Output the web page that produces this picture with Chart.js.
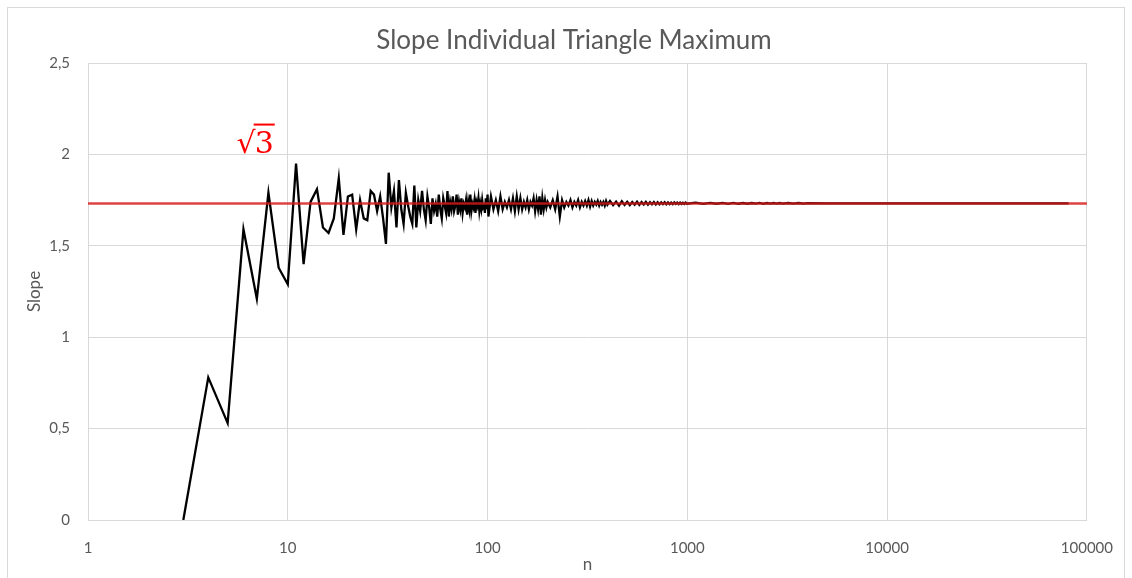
<!DOCTYPE html>
<html><head><meta charset="utf-8">
<script src="https://cdn.jsdelivr.net/npm/chart.js@4.4.1/dist/chart.umd.min.js"></script>
<style>html,body{margin:0;padding:0;background:#fff;overflow:hidden}#wrap{width:1132px;height:578px;position:relative}</style>
</head><body><div id="wrap"><canvas id="c" width="1132" height="578"></canvas></div>
<script>
const nValues = [
  3,4,5,6,7,8,9,10,11,12,13,14,15,16,17,18,19,20,21,22,23,24,25,26,27,28,29,30,31,32,
  33,34,35,36,37,38,39,40,41,42,43,44,45,46,47,48,49,50,51,52,53,54,55,56,57,58,59,60,
  61,62,63,64,65,66,67,68,69,70,71,72,73,74,75,76,77,78,79,80,81,82,83,84,85,86,87,88,89,90,
  91,92,93,94,95,96,97,98,99,100,
  101,104,107,110,113,116,119,122,125,128,131,134,137,140,143,146,149,152,155,158,161,164,167,170,
  173,176,179,182,185,188,191,194,197,200,
  206,212,218,224,230,236,242,248,254,260,266,272,278,284,290,296,302,308,314,320,326,332,338,344,
  350,356,362,368,374,380,386,392,398,
  410,425,440,455,470,485,500,515,530,545,560,575,590,605,620,635,650,665,680,695,710,725,740,755,
  770,785,800,815,830,845,860,875,890,905,920,935,950,965,980,995,
  1100,1200,1300,1400,1500,1600,1700,1800,1900,2000,2100,2200,2300,2400,2500,2600,2700,2800,2900,3000,
  3200,3400,3600,3800,4000,
  5000,7000,10000,15000,20000,30000,50000,81000
];
const slopeValues = [
  0,0.78,0.53,1.59,1.21,1.79,1.38,1.29,1.95,1.40,1.74,1.81,1.60,1.57,1.65,1.87,1.56,1.77,1.78,1.59,1.75,1.65,1.64,1.80,1.78,1.69,1.77,1.65,1.51,1.90,
  1.71,1.80,1.60,1.86,1.70,1.62,1.79,1.72,1.66,1.62,1.83,1.60,1.75,1.69,1.80,1.70,1.64,1.77,1.71,1.62,1.76,1.69,1.73,1.66,1.78,1.70,1.65,1.76,
  1.72,1.68,1.80,1.66,1.74,1.70,1.77,1.69,1.72,1.78,1.67,1.74,1.70,1.76,1.68,1.73,1.71,1.75,1.67,1.74,1.70,1.78,1.69,1.73,1.71,1.75,1.68,1.74,1.72,1.76,
  1.69,1.73,1.70,1.75,1.71,1.72,1.68,1.76,1.70,1.78,
  1.66,1.77,1.70,1.75,1.69,1.77,1.70,1.74,1.71,1.75,1.70,1.76,1.69,1.77,1.70,1.76,1.70,1.74,1.71,1.75,1.70,1.74,1.72,1.76,
  1.69,1.75,1.70,1.77,1.67,1.76,1.70,1.75,1.71,1.74,
  1.71,1.75,1.70,1.77,1.66,1.75,1.71,1.74,1.72,1.75,1.71,1.74,1.72,1.75,1.71,1.74,1.72,1.745,1.72,1.75,1.715,1.745,1.72,1.74,
  1.725,1.745,1.72,1.74,1.725,1.74,1.72,1.745,1.725,
  1.745,1.722,1.742,1.720,1.744,1.724,1.741,1.723,1.740,1.725,1.741,1.724,1.739,1.726,1.740,1.725,1.738,1.727,1.739,1.726,1.738,1.727,1.737,1.728,
  1.738,1.727,1.737,1.728,1.736,1.728,1.737,1.729,1.736,1.728,1.736,1.729,1.735,1.729,1.736,1.730,
  1.736,1.729,1.735,1.730,1.735,1.729,1.735,1.730,1.734,1.730,1.734,1.731,1.735,1.730,1.734,1.731,1.734,1.731,1.734,1.731,
  1.734,1.731,1.734,1.731,1.733,
  1.732,1.732,1.732,1.732,1.732,1.732,1.732,1.732
];
const sqrt3 = Math.sqrt(3);
const referenceN = [1, 100000];
const referenceSlope = [sqrt3, sqrt3];
const xTickValues = [1, 10, 100, 1000, 10000, 100000];
const xTickLabels = ['1', '10', '100', '1000', '10000', '100000'];
const yTickValues = [0, 0.5, 1, 1.5, 2, 2.5];
const yTickLabels = ['0', '0,5', '1', '1,5', '2', '2,5'];
const titleText = 'Slope Individual Triangle Maximum';
const xTitle = 'n';
const yTitle = 'Slope';
const annotationText = ['\u221A', '3'];
const annotationAt = {n: 5.54, slope: 2.01};

const GREY = '#595959';
const GRID = '#d9d9d9';
const FONT = 'Lato';

const pagePlugin = {
  id: 'page',
  beforeDraw(chart) {
    const ctx = chart.ctx;
    ctx.save();
    ctx.fillStyle = '#fff';
    ctx.fillRect(0, 0, chart.width, chart.height);
    ctx.strokeStyle = GRID;
    ctx.lineWidth = 1;
    ctx.strokeRect(7.5, 7.5, 1117, 580);
    ctx.fillStyle = GREY;
    ctx.font = '26px ' + FONT;
    ctx.textAlign = 'center';
    ctx.textBaseline = 'middle';
    ctx.fillText(titleText, 574, 41);
    ctx.restore();
  }
};
const sqrtLabel = {
  id: 'sqrtLabel',
  afterDatasetsDraw(chart) {
    const {ctx, scales: {x, y}} = chart;
    const px = x.getPixelForValue(annotationAt.n);
    const py = y.getPixelForValue(annotationAt.slope);
    ctx.save();
    ctx.fillStyle = '#ff0000';
    ctx.font = '30px "DejaVu Serif"';
    ctx.textBaseline = 'alphabetic';
    ctx.textAlign = 'left';
    ctx.fillText(annotationText[0], px, py);
    const w = ctx.measureText(annotationText[0]).width;
    ctx.fillText(annotationText[1], px + w - 1, py);
    const w3 = ctx.measureText(annotationText[1]).width;
    ctx.fillRect(px + w - 2, py - 29, w3 + 2, 2);
    ctx.restore();
  }
};

new Chart(document.getElementById('c'), {
  type: 'line',
  data: {
    datasets: [
      {
        label: 'sqrt3',
        data: referenceN.map((n, i) => ({x: n, y: referenceSlope[i]})),
        borderColor: 'rgba(215,25,25,0.82)',
        borderWidth: 2.5,
        pointRadius: 0,
        tension: 0
      },
      {
        label: 'Slope',
        data: nValues.map((n, i) => ({x: n, y: slopeValues[i]})),
        borderColor: '#000',
        borderWidth: 2.3,
        pointRadius: 0,
        tension: 0
      }
    ]
  },
  options: {
    responsive: false,
    animation: false,
    devicePixelRatio: 1,
    layout: {padding: {left: 24, right: 42, top: 63, bottom: 3}},
    plugins: {
      legend: {display: false},
      tooltip: {enabled: false},
      title: {display: false}
    },
    scales: {
      x: {
        type: 'logarithmic', min: 1, max: 100000,
        afterBuildTicks: s => { s.ticks = xTickValues.map(v => ({value: v, major: true})); },
        afterFit: s => { s.height = 55; },
        ticks: {
          autoSkip: false, maxRotation: 0, padding: 19, color: GREY,
          font: {family: FONT, size: 15},
          callback: v => xTickLabels[xTickValues.indexOf(v)]
        },
        grid: {color: GRID, lineWidth: 1, drawTicks: false},
        border: {color: GRID},
        title: {display: true, text: xTitle, color: GREY, padding: 0,
          font: {family: FONT, size: 17, lineHeight: 1.2}}
      },
      y: {
        min: 0, max: 2.5,
        afterBuildTicks: s => { s.ticks = yTickValues.map(v => ({value: v})); },
        afterFit: s => { s.width = 64; },
        ticks: {
          padding: 18, color: GREY, font: {family: FONT, size: 15},
          callback: v => yTickLabels[yTickValues.indexOf(v)]
        },
        grid: {color: GRID, lineWidth: 1, drawTicks: false},
        border: {display: false},
        title: {display: true, text: yTitle, color: GREY, padding: 0,
          font: {family: FONT, size: 17, lineHeight: 1.2}}
      }
    }
  },
  plugins: [pagePlugin, sqrtLabel]
});
</script>
</body></html>
